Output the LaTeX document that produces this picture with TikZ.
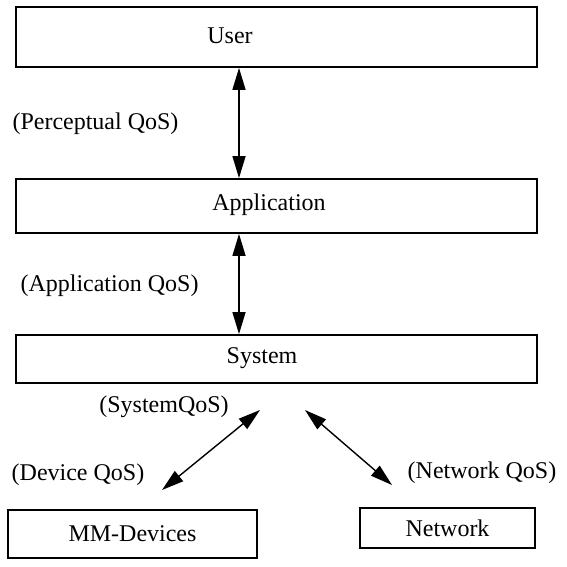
\documentclass[tikz,border=0pt]{standalone}
\usepackage{fontspec}
\setmainfont{Liberation Serif}
\usetikzlibrary{positioning,arrows.meta}

\begin{document}
\begin{tikzpicture}[
  x=0.5pt,y=-0.5pt,
  font=\fontsize{12}{14}\selectfont,
  layer/.style={rectangle,draw=black,line width=0.9pt,inner sep=0pt,align=center},
  qos/.style={inner sep=0pt},
  dbl/.style={{Triangle[length=11pt,width=6.5pt]}-{Triangle[length=11pt,width=6.5pt]},line width=0.7pt},
]
\useasboundingbox (0,0) rectangle (567,567);

% the three stacked layers (text sits left of the box centre)
\node[layer,minimum width=260.5pt,minimum height=30pt] (user) at (276.5,37) {};
\node[qos] (usertxt) at (230,36) {User};
\node[layer,minimum width=260.5pt,minimum height=27pt] (app) at (276.5,206) {};
\node[qos] (apptxt) at (269,205) {Application};
\node[layer,minimum width=260.5pt,minimum height=24pt] (sys) at (276.5,359) {};
\node[qos] (systxt) at (262,358) {System};

% the two lower boxes
\node[layer,minimum width=124.5pt,minimum height=24pt] (mmdev) at (132.5,534) {MM-Devices};
\node[layer,minimum width=87.5pt,minimum height=20pt]  (net)   at (447.5,528) {Network};

% QoS labels
\node[qos] (percqos) at (95.5,124) {(Perceptual QoS)};
\node[qos] (appqos)  at (109.5,286) {(Application QoS)};
\node[qos] (sysqos)  at (164,407) {(SystemQoS)};
\node[qos] (devqos)  at (78,475)  {(Device QoS)};
\node[qos] (netqos)  at (482,473) {(Network QoS)};

% vertical links
\coordinate (ax) at (239,0);
\draw[dbl] (user.south -| ax) -- (app.north -| ax);
\draw[dbl] (app.south -| ax) -- (sys.north -| ax);

% links below the system layer
\coordinate (sysl) at (260,410);
\coordinate (sysr) at (305,410);
\coordinate (devend) at (162,490);
\coordinate (netend) at (392,485);
\draw[dbl] (sysl) -- (devend);
\draw[dbl] (sysr) -- (netend);
\end{tikzpicture}
\end{document}
